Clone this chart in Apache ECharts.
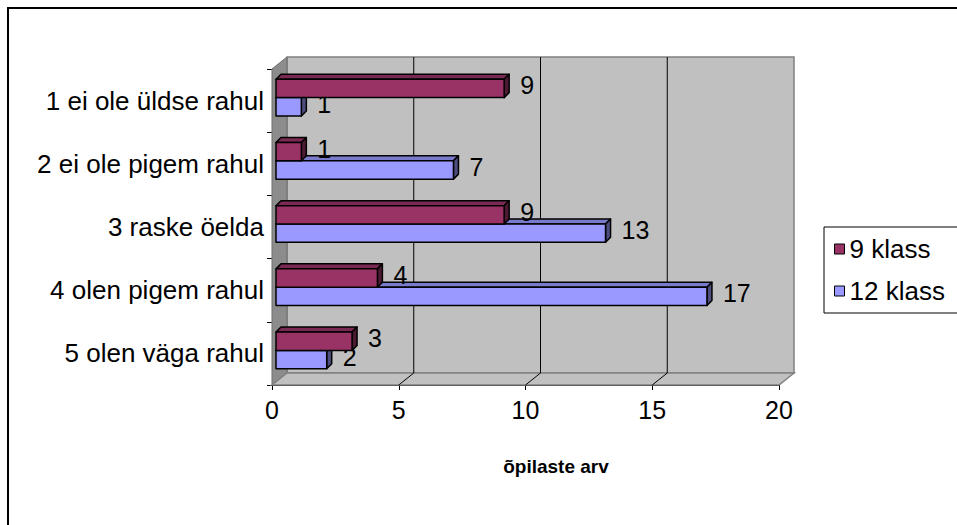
<!DOCTYPE html>
<html>
<head>
<meta charset="utf-8">
<script src="https://cdn.jsdelivr.net/npm/echarts@6/dist/echarts.min.js"></script>
<style>
  html, body { margin: 0; padding: 0; background: #fff; }
  #chart { width: 957px; height: 525px; }
</style>
</head>
<body>
<div id="chart"></div>
<script>
// data
const categories = ['1 ei ole üldse rahul', '2 ei ole pigem rahul', '3 raske öelda', '4 olen pigem rahul', '5 olen väga rahul']
const klass9 = [9, 1, 9, 4, 3]
const klass12 = [1, 7, 13, 17, 2]
const seriesNames = ['9 klass', '12 klass']
const xTicks = [0, 5, 10, 15, 20]
const axisTitle = 'õpilaste arv'

const FONT = 'Liberation Sans, Arial, sans-serif'
// 3d look
const WALL_DX = 15
const WALL_DY = -12
const BAR_D = 5
const BAR_SHIFT_X = 4
const BAR_SHIFT_Y = -3

const palette = [
  { front: '#993366', top: '#7A2952', side: '#4D1A33' },
  { front: '#9999FF', top: '#7A7ACC', side: '#4D4D80' }
]

function renderWalls(params, api) {
  const cs = params.coordSys
  const x = cs.x
  const y = cs.y
  const w = cs.width
  const h = cs.height
  const children = [
    {
      type: 'rect',
      shape: { x: x + WALL_DX, y: y + WALL_DY, width: w, height: h },
      style: { fill: '#C0C0C0', stroke: '#808080', lineWidth: 1.5 }
    },
    {
      type: 'polygon',
      shape: { points: [[x, y], [x + WALL_DX, y + WALL_DY], [x + WALL_DX, y + h + WALL_DY], [x, y + h]] },
      style: { fill: '#8C8C8C', stroke: '#6E6E6E', lineWidth: 1 }
    },
    {
      type: 'polygon',
      shape: { points: [[x, y + h], [x + WALL_DX, y + h + WALL_DY], [x + w + WALL_DX, y + h + WALL_DY], [x + w, y + h]] },
      style: { fill: '#C0C0C0', stroke: '#808080', lineWidth: 1.5 }
    }
  ]
  xTicks.slice(1, -1).forEach(function (v) {
    const px = api.coord([v, 0])[0]
    children.push({
      type: 'line',
      shape: { x1: px + WALL_DX, y1: y + WALL_DY, x2: px + WALL_DX, y2: y + h + WALL_DY },
      style: { stroke: '#000', lineWidth: 1 }
    })
    children.push({
      type: 'line',
      shape: { x1: px, y1: y + h, x2: px + WALL_DX, y2: y + h + WALL_DY },
      style: { stroke: '#000', lineWidth: 1 }
    })
  })
  return { type: 'group', children: children }
}

function barRenderer(slot) {
  return function (params, api) {
    const val = api.value(0)
    const cat = api.value(1)
    const start = api.coord([0, cat])
    const end = api.coord([val, cat])
    const h = api.size([0, 1])[1] * 0.29
    const c = palette[slot]
    const x0 = start[0] + BAR_SHIFT_X
    const x1 = end[0] + BAR_SHIFT_X
    const yTop = start[1] + BAR_SHIFT_Y + (slot === 0 ? -h : 0)
    const line = { stroke: '#000', lineWidth: 1.5, lineJoin: 'round' }
    return {
      type: 'group',
      children: [
        {
          type: 'polygon',
          shape: { points: [[x0, yTop], [x0 + BAR_D, yTop - BAR_D], [x1 + BAR_D, yTop - BAR_D], [x1, yTop]] },
          style: Object.assign({ fill: c.top }, line)
        },
        {
          type: 'polygon',
          shape: { points: [[x1, yTop], [x1 + BAR_D, yTop - BAR_D], [x1 + BAR_D, yTop + h - BAR_D], [x1, yTop + h]] },
          style: Object.assign({ fill: c.side }, line)
        },
        {
          type: 'rect',
          shape: { x: x0, y: yTop, width: x1 - x0, height: h },
          style: Object.assign({ fill: c.front }, line)
        },
        {
          type: 'text',
          x: x1 + BAR_D + 11,
          y: yTop + h / 2 - 3,
          style: { text: String(val), font: '25px ' + FONT, fill: '#000', verticalAlign: 'middle', align: 'left' }
        }
      ]
    }
  }
}

const myChart = echarts.init(document.getElementById('chart'), null, { renderer: 'svg' })
const option = {
  animation: false,
  backgroundColor: '#fff',
  textStyle: { fontFamily: FONT },
  grid: { left: 272, top: 69, width: 507, height: 316 },
  graphic: [
    {
      type: 'rect',
      shape: { x: 8, y: 8, width: 1200, height: 1200 },
      style: { fill: 'none', stroke: '#000', lineWidth: 2 },
      silent: true
    },
    {
      type: 'text',
      x: 556,
      y: 466,
      style: { text: axisTitle, font: 'bold 19px ' + FONT, fill: '#000', align: 'center', verticalAlign: 'middle' }
    }
  ],
  legend: {
    orient: 'vertical',
    left: 824,
    top: 227,
    data: seriesNames,
    icon: 'rect',
    itemWidth: 10,
    itemHeight: 10,
    itemGap: 16,
    padding: [9, 20, 9, 10],
    borderColor: '#000',
    borderWidth: 1,
    itemStyle: { borderColor: '#000', borderWidth: 1 },
    textStyle: { fontSize: 26, color: '#000', fontFamily: FONT }
  },
  xAxis: {
    type: 'value',
    min: 0,
    max: 20,
    interval: 5,
    axisLine: { show: true, lineStyle: { color: '#000', width: 1 } },
    axisTick: { show: true, length: 5, lineStyle: { color: '#000' } },
    axisLabel: { fontSize: 25, color: '#000', margin: 12 },
    splitLine: { show: false }
  },
  yAxis: {
    type: 'category',
    data: categories,
    inverse: true,
    axisLine: { show: true, lineStyle: { color: '#000', width: 1 } },
    axisTick: { show: true, length: 5, lineStyle: { color: '#000' } },
    axisLabel: { fontSize: 26, color: '#000', margin: 8 }
  },
  series: [
    {
      name: 'walls',
      type: 'custom',
      z: 1,
      clip: false,
      silent: true,
      renderItem: renderWalls,
      data: [[0, 0]],
      encode: { x: 0, y: 1 }
    },
    {
      name: seriesNames[0],
      type: 'custom',
      z: 4,
      clip: false,
      itemStyle: { color: palette[0].front },
      renderItem: barRenderer(0),
      data: klass9.map(function (v, i) { return [v, i] }),
      encode: { x: 0, y: 1 }
    },
    {
      name: seriesNames[1],
      type: 'custom',
      z: 3,
      clip: false,
      itemStyle: { color: palette[1].front },
      renderItem: barRenderer(1),
      data: klass12.map(function (v, i) { return [v, i] }),
      encode: { x: 0, y: 1 }
    }
  ]
}
myChart.setOption(option)
</script>
</body>
</html>
